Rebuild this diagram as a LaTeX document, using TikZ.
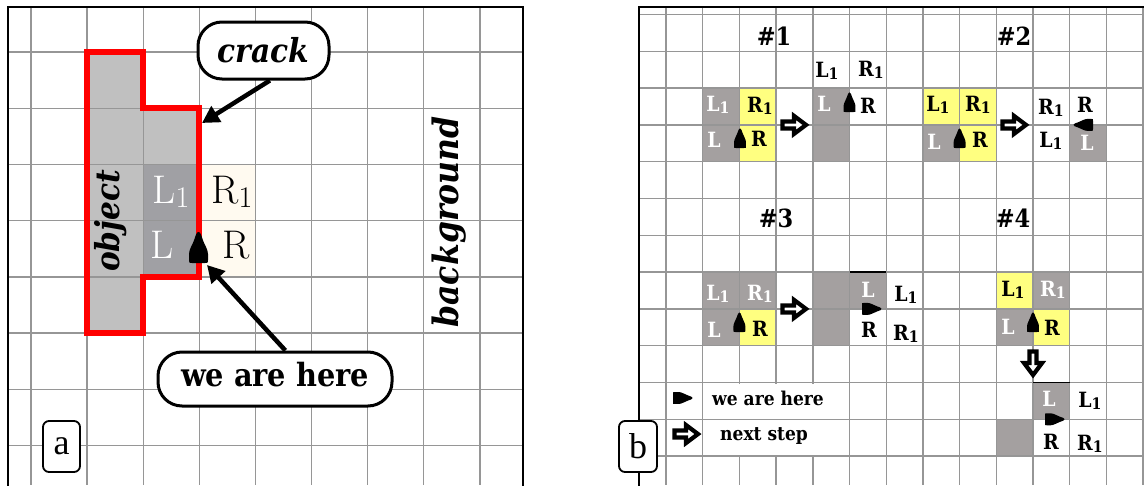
\documentclass[tikz,border=0pt]{standalone}
\usepackage{fontspec}
\usepackage{graphicx}
\usetikzlibrary{arrows.meta}
\newfontfamily\timesf{Liberation Serif}
\newfontfamily\csb{DejaVu Serif Condensed}
\definecolor{gridc}{RGB}{150,150,150}
\definecolor{objc}{RGB}{192,192,192}
\definecolor{darkc}{RGB}{160,160,164}
\definecolor{creamc}{RGB}{255,250,240}
\definecolor{yelc}{RGB}{255,255,128}
\definecolor{bgray}{RGB}{164,160,160}
\newcommand\sone{\raisebox{-0.12em}{\scalebox{0.75}{1}}}
\newcommand\wmark[3]{\fill[shift={(#1)},rotate=#2,scale=#3]
 (-9.5pt,3pt) -- (-9.5pt,9pt) .. controls (-9.5pt,14pt) and (-5.5pt,19pt) .. (-4pt,24pt)
 .. controls (-3pt,28pt) and (-1.5pt,31pt) .. (0pt,31pt)
 .. controls (1.5pt,31pt) and (3pt,28pt) .. (4pt,24pt)
 .. controls (5.5pt,19pt) and (9.5pt,14pt) .. (9.5pt,9pt) -- (9.5pt,3pt)
 .. controls (9.5pt,0pt) .. (6.5pt,0pt) -- (-6.5pt,0pt)
 .. controls (-9.5pt,0pt) .. (-9.5pt,3pt) -- cycle;}
\newcommand\harr[2]{\draw[hollow,shift={(#1)},rotate=#2] (-11.5pt,3.5pt) -- (0pt,3.5pt) -- (0pt,9pt) -- (12pt,0pt) -- (0pt,-9pt) -- (0pt,-3.5pt) -- (-11.5pt,-3.5pt) -- cycle;}
\tikzset{
 gridline/.style={draw=gridc,line width=1.4pt},
 frameline/.style={draw=black,line width=2.5pt},
 callout/.style={draw=black,fill=white,line width=3pt,rounded corners=24pt,inner sep=0pt},
 calarrow/.style={line width=4.5pt,-{Triangle[length=17pt,width=18pt]}},
 labbox/.style={draw=black,fill=white,line width=1.8pt,rounded corners=6pt,minimum width=37pt,minimum height=51pt,inner sep=0pt,font=\timesf\fontsize{36}{40}\selectfont},
 biga/.style={font=\fontsize{40}{44}\selectfont,inner sep=0pt,anchor=base},
 smallb/.style={font=\csb\bfseries\fontsize{21}{24}\selectfont,inner sep=0pt,anchor=base},
 titleb/.style={font=\csb\bfseries\fontsize{25}{28}\selectfont,inner sep=0pt,anchor=base},
 legtext/.style={font=\csb\bfseries\fontsize{19}{22}\selectfont,inner sep=0pt,anchor=base west},
 hollow/.style={draw=black,fill=white,line width=4.2pt,line join=miter},
}
\begin{document}
\begin{tikzpicture}[x=1pt,y=-1pt]
\useasboundingbox (0,0) rectangle (1144,485);
\fill[white] (0,0) rectangle (1144,485);
% ---------------- panel a fills
\fill[objc] (87.1,52) -- (143.2,52) -- (143.2,108.2) -- (199.3,108.2) -- (199.3,276.8) -- (143.2,276.8) -- (143.2,333) -- (87.1,333) -- cycle;
\fill[darkc] (143.2,164.4) rectangle (199.3,276.8);
\fill[creamc] (199.3,164.4) rectangle (255.4,276.8);
% ---------------- panel b fills
\begin{scope}[shift={(666,14.5)},x=36.7pt,y=-36.8pt]
 \foreach \c/\r in {1/2,1/3,4/2,4/3,7/3,11/3,1/7,2/7,1/8,4/7,4/8,5/7,10/7,9/8,10/10,9/11}
   \fill[bgray] (\c,\r) rectangle (\c+1,\r+1);
 \foreach \c/\r in {2/2,2/3,7/2,8/2,8/3,2/8,9/7,10/8}
   \fill[yelc] (\c,\r) rectangle (\c+1,\r+1);
\end{scope}
% ---------------- grids
\foreach \k in {0,...,8} \draw[gridline] ({31+56.1*\k},7) -- ({31+56.1*\k},485);
\foreach \k in {0,...,7} \draw[gridline] (8,{52+56.2*\k}) -- (523,{52+56.2*\k});
\foreach \k in {0,...,13} \draw[gridline] ({666+36.7*\k},7) -- ({666+36.7*\k},485);
\foreach \k in {0,...,12} \draw[gridline] (639,{14.5+36.8*\k}) -- (1144,{14.5+36.8*\k});
\begin{scope}[shift={(666,14.5)},x=36.7pt,y=-36.8pt]
 \fill[white] (1.03,10.03) rectangle (4.97,11.97);
 \draw[gridline] (1,11) -- (5,11);
 \draw[line width=1.5pt] (5,7) -- (6,7);
 \draw[line width=1.5pt] (10,10) -- (11,10);
\end{scope}
% ---------------- red outline
\draw[red,line width=6pt,line join=miter] (87.1,52) -- (143.2,52) -- (143.2,108.2) -- (199.3,108.2) -- (199.3,276.8) -- (143.2,276.8) -- (143.2,333) -- (87.1,333) -- cycle;
% ---------------- frames
\draw[frameline] (8,486) -- (8,7) -- (523,7) -- (523,486);
\draw[frameline] (639,486) -- (639,7) -- (1145,7);
% ---------------- panel a texts
\node[biga,text=white] (La1) at (171,203) {L\sone};
\node[biga] (Ra1) at (232,203) {R\sone};
\node[biga,text=white] (La) at (162,258) {L};
\node[biga] (Ra) at (236,258) {R};
\node[rotate=90,inner sep=0pt,font=\csb\bfseries\itshape\fontsize{33}{38}\selectfont] (obj) at (111,221) {object};
\node[rotate=90,inner sep=0pt,font=\csb\bfseries\itshape\fontsize{35}{40}\selectfont] (bg) at (449,222) {background};
\wmark{198.5,263}{0}{1}
% callouts
\node[callout,minimum width=131pt,minimum height=57pt,font=\csb\bfseries\itshape\fontsize{33}{38}\selectfont] (crack) at (263.5,50.5) {crack};
\node[callout,minimum width=234pt,minimum height=54pt,text height=24pt,text depth=10pt,font=\csb\bfseries\fontsize{32}{38}\selectfont] (here) at (275,379) {we are here};
\coordinate (crackpt) at (202,123);
\coordinate (herept) at (207,265);
\draw[calarrow] (crack.-78) -- (crackpt);
\draw[calarrow] (here.70) -- (herept);
\node[labbox] (boxa) at (61.5,446.5) {a};
% ---------------- panel b texts
\node[titleb] (t1) at (774,45) {\#1};
\node[titleb] (t2) at (1014,45) {\#2};
\node[titleb] (t3) at (776,227) {\#3};
\node[titleb] (t4) at (1013,227) {\#4};
% #1
\node[smallb,text=white] (n1a) at (718,111) {L\sone};
\node[smallb] (n1b) at (760,112) {R\sone};
\node[smallb,text=white] (n1c) at (714,147) {L};
\node[smallb] (n1d) at (759,146) {R};
\node[smallb] (n1e) at (827,77) {L\sone};
\node[smallb] (n1f) at (871,76) {R\sone};
\node[smallb,text=white] (n1g) at (824,111) {L};
\node[smallb] (n1h) at (868,113) {R};
% #2
\node[smallb] (n2a) at (938,111) {L\sone};
\node[smallb] (n2b) at (978,111) {R\sone};
\node[smallb,text=white] (n2c) at (934,149) {L};
\node[smallb] (n2d) at (980,147) {R};
\node[smallb] (n2e) at (1051,114) {R\sone};
\node[smallb] (n2f) at (1051,147) {L\sone};
\node[smallb] (n2g) at (1085,112) {R};
\node[smallb,text=white] (n2h) at (1087,150) {L};
% #3
\node[smallb,text=white] (n3a) at (718,300) {L\sone};
\node[smallb,text=white] (n3b) at (760,300) {R\sone};
\node[smallb,text=white] (n3c) at (714,337) {L};
\node[smallb] (n3d) at (760,336) {R};
\node[smallb,text=white] (n3e) at (868,297) {L};
\node[smallb] (n3f) at (906,301) {L\sone};
\node[smallb] (n3g) at (869,337) {R};
\node[smallb] (n3h) at (906,340) {R\sone};
% #4
\node[smallb] (n4a) at (1013,296) {L\sone};
\node[smallb,text=white] (n4b) at (1053,296) {R\sone};
\node[smallb,text=white] (n4c) at (1008,334) {L};
\node[smallb] (n4d) at (1052,335) {R};
\node[smallb,text=white] (n4e) at (1049,406) {L};
\node[smallb] (n4f) at (1090,407) {L\sone};
\node[smallb] (n4g) at (1051,449) {R};
\node[smallb] (n4h) at (1090,450) {R\sone};
% markers
\wmark{740,148}{0}{0.63}
\wmark{849.5,112}{0}{0.63}
\wmark{959.6,148}{0}{0.63}
\wmark{1093,124.9}{90}{0.63}
\wmark{739.4,332}{0}{0.63}
\wmark{862,308.9}{-90}{0.63}
\wmark{1033,332}{0}{0.63}
\wmark{1045,419.3}{-90}{0.63}
\wmark{673,398}{-90}{0.63}
% next-step arrows
\harr{794,124.9}{0}
\harr{1014,124.9}{0}
\harr{794,308.9}{0}
\harr{1033,363}{-90}
\harr{686,434}{0}
% legend
\node[legtext] (leg1) at (712,405) {we are here};
\node[legtext] (leg2) at (720,440) {next step};
\node[labbox,minimum width=38pt] (boxb) at (638,446.5) {b};
\end{tikzpicture}
\end{document}
